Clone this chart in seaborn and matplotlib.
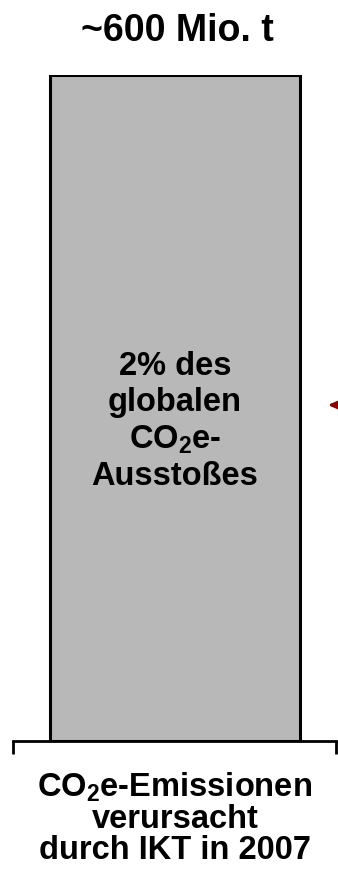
import matplotlib
matplotlib.use("Agg")
import matplotlib.pyplot as plt
import seaborn as sns
import pandas as pd

# Data
categories = ["CO$_2$e-Emissionen\nverursacht\ndurch IKT in 2007"]
values = [600]
value_label = "~600 Mio. t"
bar_note = "2% des\nglobalen\nCO$_2$e-\nAusstoßes"

sns.set_theme(style="white")
plt.rcParams["font.family"] = ["Liberation Sans", "DejaVu Sans"]
plt.rcParams["font.weight"] = "bold"
plt.rcParams["mathtext.default"] = "regular"
plt.rcParams["text.color"] = "black"
plt.rcParams["xtick.color"] = "black"
plt.rcParams["xtick.labelcolor"] = "black"

df = pd.DataFrame({"kategorie": categories, "wert": values})

fig = plt.figure(figsize=(3.38, 8.83), dpi=100)
ax = fig.add_axes([13 / 338, 142 / 883, 323 / 338, 666 / 883])

sns.barplot(data=df, x="kategorie", y="wert", ax=ax, color="#B8B8B8",
            saturation=1, width=250 / 323, edgecolor="black", linewidth=2.2)

ax.set_xlim(-162 / 323, 161 / 323)
ax.set_ylim(0, values[0])

# Only the baseline remains, with short end ticks
for side in ["top", "left", "right"]:
    ax.spines[side].set_visible(False)
ax.spines["bottom"].set_linewidth(2)
ax.spines["bottom"].set_color("black")
ax.set_yticks([])
ax.set_xlabel("")
ax.set_ylabel("")
ax.set_xticks([0])
ax.set_xticklabels(categories, fontsize=23.5, fontweight="bold",
                   linespacing=1.0, color="black")
ax.tick_params(axis="x", which="major", length=0, pad=21)
ax.set_xticks(list(ax.get_xlim()), minor=True)
ax.tick_params(axis="x", which="minor", length=9.5, width=2,
               direction="out", color="black", bottom=True)

# Value above the bar
fig.text(177 / 338, 1 - 31 / 883, value_label, ha="center", va="center",
         fontsize=27, fontweight="bold", color="black")

# Note inside the bar
ax.text(0, 288, bar_note, ha="center", va="center", fontsize=23.5,
        fontweight="bold", linespacing=1.22, color="black")

# Pointer arrow from the right
ax.annotate("", xy=(0.966, 0.5045), xycoords="axes fraction",
            xytext=(1.3, 0.5045), textcoords="axes fraction",
            arrowprops=dict(arrowstyle="-|>,head_length=0.8,head_width=0.35",
                            mutation_scale=20, color="#8B0000", lw=2),
            annotation_clip=False)

fig.savefig("out.png", dpi=100)
